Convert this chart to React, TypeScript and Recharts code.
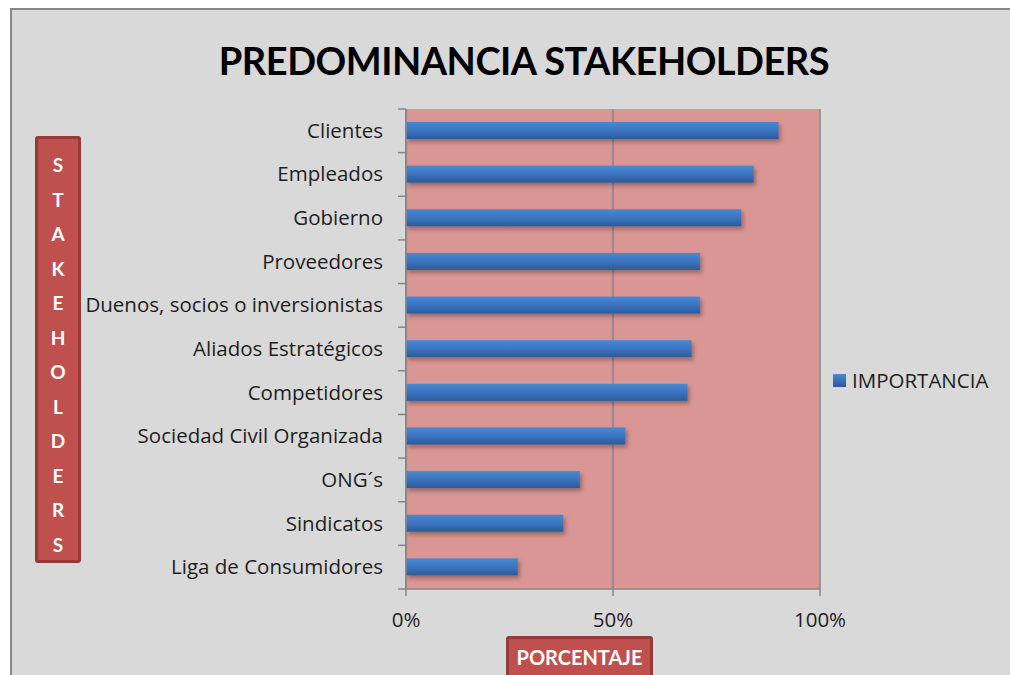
import React from 'react';
import { BarChart, Bar, XAxis, YAxis, CartesianGrid, Legend } from 'recharts';

const categories = [
  'Clientes',
  'Empleados',
  'Gobierno',
  'Proveedores',
  'Duenos, socios o inversionistas',
  'Aliados Estratégicos',
  'Competidores',
  'Sociedad Civil Organizada',
  'ONG´s',
  'Sindicatos',
  'Liga de Consumidores',
];
const importancia = [0.9, 0.84, 0.81, 0.71, 0.71, 0.69, 0.68, 0.53, 0.42, 0.38, 0.27];
const xTicks = [0, 0.5, 1];
const title = 'PREDOMINANCIA STAKEHOLDERS';
const yTitle = 'STAKEHOLDERS';
const xTitle = 'PORCENTAJE';
const seriesName = 'IMPORTANCIA';

const data = categories.map((name, i) => ({ name, importancia: importancia[i] }));

const FONT = 'Lato, "Open Sans", sans-serif';
const LABEL_FONT = '"Open Sans", Lato, sans-serif';
const AXIS_GRAY = '#868686';

const CategoryTick = (props: any) => {
  const { x, y, payload, index, visibleTicksCount } = props;
  const half = payload && payload.offset ? payload.offset : 21.8;
  const axisX = x + 23;
  const last = index === (visibleTicksCount ?? categories.length) - 1;
  return (
    <g>
      <line x1={axisX - 8} x2={axisX} y1={y - half} y2={y - half} stroke={AXIS_GRAY} strokeWidth={1.5} />
      {last && <line x1={axisX - 8} x2={axisX} y1={y + half} y2={y + half} stroke={AXIS_GRAY} strokeWidth={1.5} />}
      <text x={x} y={y} dy={7} textAnchor="end" fill="#1e1e1e" fontSize={20.5} fontFamily={LABEL_FONT}>
        {payload.value}
      </text>
    </g>
  );
};

const BarShape = (props: any) => {
  const { x, y, width, height } = props;
  if (!width || width <= 0) return null;
  return <rect x={x} y={y} width={width} height={height} fill="url(#barGrad)" filter="url(#barShadow)" />;
};

const LegendBox = () => (
  <div style={{ display: 'flex', alignItems: 'center', fontFamily: LABEL_FONT, fontSize: 20.5, color: '#1e1e1e', paddingLeft: 13 }}>
    <span style={{ width: 13, height: 13, background: 'linear-gradient(#4a88d2, #2b5a99)', marginRight: 6, display: 'inline-block', flexShrink: 0 }} />
    {seriesName}
  </div>
);

export default function App() {
  return (
    <div style={{ position: 'fixed', left: 0, top: 0, width: 1010, height: 675, background: '#fff', overflow: 'hidden' }}>
      <div
        style={{
          position: 'absolute',
          left: 10,
          top: 8,
          width: 1010,
          height: 680,
          background: '#d9d9d9',
          borderTop: '2px solid #888',
          borderLeft: '2px solid #888',
        }}
      />
      <div
        style={{
          position: 'absolute',
          left: 0,
          width: 1048,
          top: 37,
          textAlign: 'center',
          fontFamily: FONT,
          fontWeight: 700,
          fontSize: 38,
          letterSpacing: -0.5,
          color: '#000',
          lineHeight: '46px',
        }}
      >
        {title}
      </div>
      <div style={{ position: 'absolute', left: 0, top: 0 }}>
        <BarChart
          width={1010}
          height={675}
          layout="vertical"
          data={data}
          margin={{ top: 109, right: 20, bottom: 56, left: 106 }}
        >
          <defs>
            <linearGradient id="barGrad" x1="0" y1="0" x2="0" y2="1">
              <stop offset="0%" stopColor="#4a88d2" />
              <stop offset="55%" stopColor="#3a72bd" />
              <stop offset="100%" stopColor="#2b5a99" />
            </linearGradient>
            <filter id="barShadow" x="-5%" y="-30%" width="115%" height="190%">
              <feDropShadow dx={2} dy={3} stdDeviation={2} floodColor="#000" floodOpacity={0.3} />
            </filter>
          </defs>
          <CartesianGrid horizontal={false} stroke={AXIS_GRAY} strokeWidth={1.5} fill="#d99694" fillOpacity={1} />
          <XAxis
            type="number"
            domain={[0, 1]}
            ticks={xTicks}
            tickFormatter={(v: number) => `${Math.round(v * 100)}%`}
            height={30}
            stroke={AXIS_GRAY}
            strokeWidth={1.5}
            tickSize={7}
            tickMargin={16}
            tick={{ fill: '#1e1e1e', fontSize: 20.5, fontFamily: LABEL_FONT }}
          />
          <YAxis
            type="category"
            dataKey="name"
            width={300}
            tickSize={8}
            tickMargin={15}
            tickLine={false}
            axisLine={{ stroke: AXIS_GRAY, strokeWidth: 1.5 }}
            tick={<CategoryTick />}
            interval={0}
          />
          <Legend
            layout="vertical"
            align="right"
            verticalAlign="middle"
            width={170}
            wrapperStyle={{ left: 820, top: 366 }}
            content={<LegendBox />}
          />
          <Bar dataKey="importancia" name={seriesName} barSize={17} shape={<BarShape />} isAnimationActive={false} />
        </BarChart>
      </div>
      <div
        style={{
          position: 'absolute',
          left: 35,
          top: 136,
          width: 40,
          height: 421,
          background: '#c0504d',
          border: '3px solid #963a38',
          borderRadius: 3,
        }}
      >
        {yTitle.split('').map((ch, i) => (
          <div
            key={i}
            style={{
              position: 'absolute',
              left: 0,
              width: 40,
              top: 14 + i * 34.5,
              textAlign: 'center',
              fontFamily: FONT,
              fontWeight: 700,
              fontSize: 19,
              lineHeight: '24px',
              color: '#fff',
            }}
          >
            {ch}
          </div>
        ))}
      </div>
      <div
        style={{
          position: 'absolute',
          left: 506,
          top: 636,
          width: 141,
          height: 50,
          background: '#c0504d',
          border: '3px solid #963a38',
          borderRadius: 3,
          color: '#fff',
          fontFamily: FONT,
          fontWeight: 700,
          fontSize: 20,
          textAlign: 'center',
          lineHeight: '36px',
        }}
      >
        {xTitle}
      </div>
    </div>
  );
}
